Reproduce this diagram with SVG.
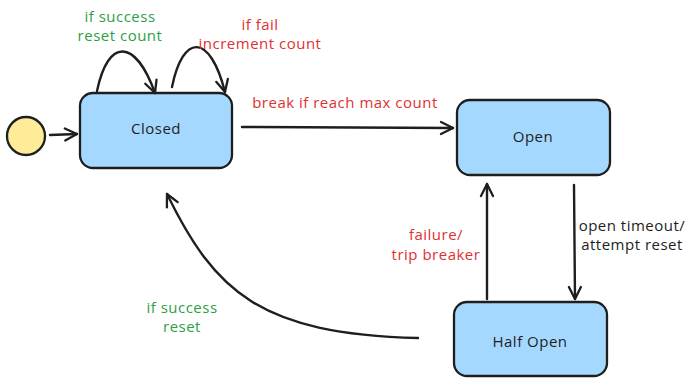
<svg xmlns="http://www.w3.org/2000/svg" width="689" height="378" viewBox="0 0 689 378">
  <style>
    .state { fill: #a5d8ff; stroke: #1e1e1e; stroke-width: 2.3; }
    .start { fill: #ffec99; stroke: #1e1e1e; stroke-width: 2.3; }
    .edge { fill: none; stroke: #1e1e1e; stroke-width: 2.4; stroke-linecap: round; marker-end: url(#head); }
    text { font-family: "Open Sans", "Liberation Sans", sans-serif; font-size: 15px; letter-spacing: 0.5px; text-anchor: middle; }
    .name { fill: #1e1e1e; }
    .ok { fill: #2f9e44; }
    .bad { fill: #e03131; }
    .info { fill: #1e1e1e; }
  </style>
  <defs>
    <marker id="head" markerUnits="userSpaceOnUse" markerWidth="30" markerHeight="30" viewBox="-15 -15 30 30" refX="0" refY="0" orient="auto">
      <path d="M-12,-6 L0,0 L-12,6" fill="none" stroke="#1e1e1e" stroke-width="2.3" stroke-linecap="round" stroke-linejoin="round"/>
    </marker>
  </defs>

  <g id="start">
    <circle class="start" cx="26" cy="136" r="19"/>
  </g>

  <g id="closed">
    <rect class="state" x="80" y="93" width="152" height="75" rx="13"/>
    <text class="name" x="156" y="134">Closed</text>
  </g>

  <g id="open">
    <rect class="state" x="457" y="100" width="153" height="75" rx="13"/>
    <text class="name" x="533" y="142">Open</text>
  </g>

  <g id="half-open">
    <rect class="state" x="454" y="302" width="153" height="74" rx="13"/>
    <text class="name" x="530" y="347">Half Open</text>
  </g>

  <g id="connectors">
    <path class="edge" d="M50,135 L77,134"/>
    <path class="edge" d="M97,91 C108,38 135,38 155,93"/>
    <path class="edge" d="M172,87 C183,33 210,33 225,92"/>
    <path class="edge" d="M242,127 L453,128"/>
    <path class="edge" d="M574,185 L575,299"/>
    <path class="edge" d="M487,299 L487,184"/>
    <path class="edge" d="M418,338 C260,334 215,292 167,194"/>
  </g>

  <g id="labels">
    <text class="ok" x="120" y="22">if success</text>
    <text class="ok" x="120" y="41">reset count</text>
    <text class="bad" x="260" y="30">if fail</text>
    <text class="bad" x="260" y="49">increment count</text>
    <text class="bad" x="345" y="108">break if reach max count</text>
    <text class="bad" x="436" y="240">failure/</text>
    <text class="bad" x="436" y="260">trip breaker</text>
    <text class="info" x="632" y="231">open timeout/</text>
    <text class="info" x="632" y="250">attempt reset</text>
    <text class="ok" x="182" y="313">if success</text>
    <text class="ok" x="182" y="332">reset</text>
  </g>
</svg>
